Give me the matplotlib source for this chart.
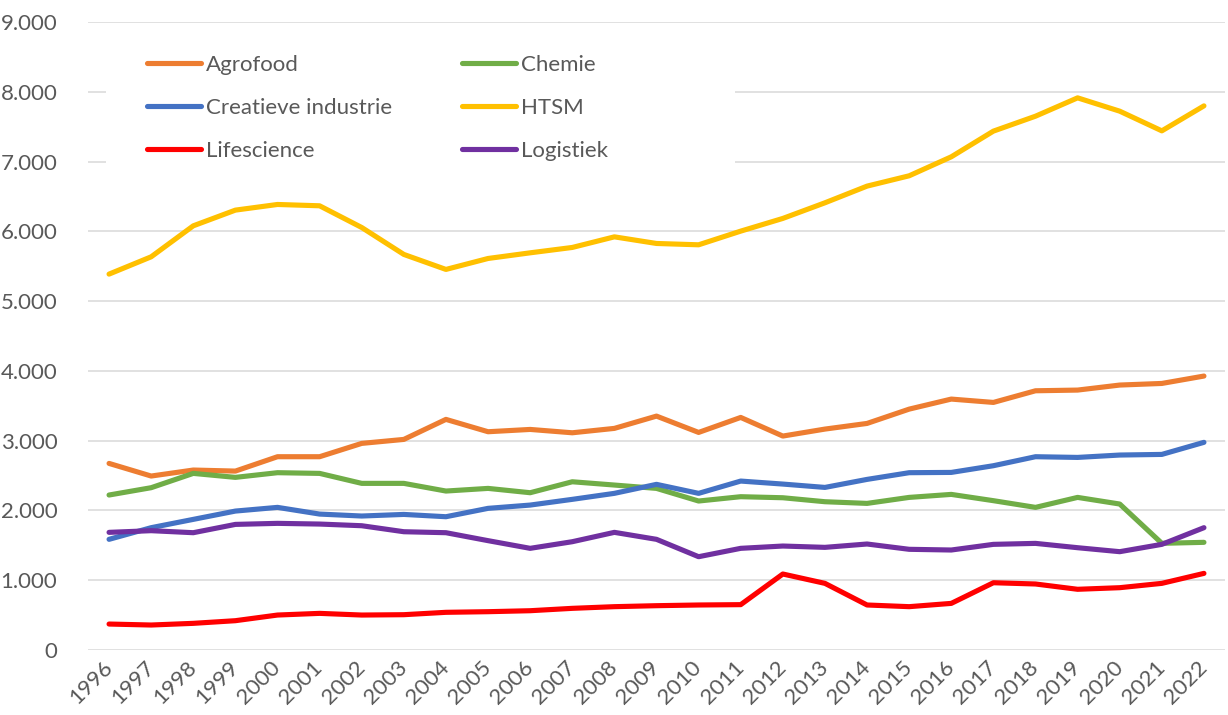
import matplotlib

matplotlib.use("Agg")

import matplotlib.pyplot as plt
from matplotlib.patches import Rectangle
from matplotlib.ticker import FuncFormatter, MultipleLocator

years = list(range(1996, 2023))

agrofood = [2674, 2493, 2579, 2564, 2770, 2770, 2961, 3018, 3305, 3128, 3161, 3113, 3176, 3352,
            3118, 3333, 3066, 3166, 3247, 3452, 3596, 3548, 3715, 3725, 3797, 3820, 3926]
chemie = [2221, 2326, 2531, 2474, 2541, 2531, 2388, 2388, 2278, 2316, 2254, 2411, 2364, 2316,
          2135, 2197, 2182, 2125, 2101, 2187, 2230, 2140, 2044, 2187, 2092, 1529, 1543]
creatieve = [1586, 1753, 1872, 1991, 2044, 1948, 1920, 1943, 1910, 2030, 2077, 2159, 2245, 2374,
             2245, 2421, 2378, 2330, 2445, 2541, 2545, 2641, 2770, 2760, 2794, 2803, 2976]
htsm = [5387, 5635, 6079, 6304, 6385, 6366, 6055, 5669, 5454, 5611, 5692, 5769, 5921, 5826,
        5807, 6003, 6185, 6409, 6648, 6796, 7068, 7436, 7650, 7913, 7722, 7440, 7798]
lifescience = [372, 358, 382, 420, 501, 525, 501, 506, 540, 549, 563, 597, 621, 635,
               645, 650, 1089, 955, 645, 621, 668, 964, 946, 870, 893, 955, 1098]
logistiek = [1686, 1710, 1681, 1800, 1815, 1805, 1781, 1695, 1681, 1567, 1457, 1552, 1686, 1586,
             1337, 1457, 1490, 1471, 1519, 1443, 1433, 1514, 1528, 1466, 1409, 1514, 1753]

series = [
    ("Agrofood", agrofood, "#ED7D31"),
    ("Chemie", chemie, "#70AD47"),
    ("Creatieve industrie", creatieve, "#4472C4"),
    ("HTSM", htsm, "#FFC000"),
    ("Lifescience", lifescience, "#FF0000"),
    ("Logistiek", logistiek, "#7030A0"),
]

TEXT = "#595959"
GRID = "#D9D9D9"
FS = 16
W, H = 1228, 715

plt.rcParams["font.family"] = ["Lato", "DejaVu Sans"]

fig = plt.figure(figsize=(W / 100, H / 100), dpi=100)
ax = fig.add_axes([88 / W, 1 - 650 / H, 1137 / W, 628 / H])

lines = {}
for name, vals, color in series:
    (ln,) = ax.plot(years, vals, color=color, linewidth=3.7, solid_capstyle="round",
                    solid_joinstyle="round", label=name, zorder=3)
    lines[name] = ln

ax.set_xlim(1995.5, 2022.5)
ax.set_ylim(0, 9000)
ax.yaxis.set_major_locator(MultipleLocator(1000))
ax.yaxis.set_major_formatter(FuncFormatter(lambda v, _: f"{int(v):,}".replace(",", ".")))
ax.set_xticks(years)
ax.set_xticklabels([str(y) for y in years], rotation=45, ha="right", va="center",
                   rotation_mode="anchor")

ax.grid(axis="y", color=GRID, linewidth=1.1)
ax.set_axisbelow(True)
for s in ax.spines.values():
    s.set_visible(False)
ax.tick_params(axis="both", length=0, labelsize=FS, labelcolor=TEXT)
ax.tick_params(axis="y", pad=22)
ax.tick_params(axis="x", pad=10)

# white legend area hides the gridlines behind it, as in the original
ax.add_patch(Rectangle((106 / W, 1 - 178 / H), (735 - 106) / W, (178 - 32) / H,
                       transform=fig.transFigure, facecolor="white", edgecolor="none", zorder=1))

order = ["Agrofood", "Creatieve industrie", "Lifescience", "Chemie", "HTSM", "Logistiek"]
ax.legend([lines[n] for n in order], order, ncol=2, loc="upper left",
          bbox_to_anchor=(147 / W, 1 - 55 / H), bbox_transform=fig.transFigure,
          fontsize=FS, frameon=False, borderaxespad=0, borderpad=0, handlelength=2.43,
          handletextpad=0.23, columnspacing=3.15, labelspacing=1.03, labelcolor=TEXT)

fig.savefig("out.png", dpi=100)
